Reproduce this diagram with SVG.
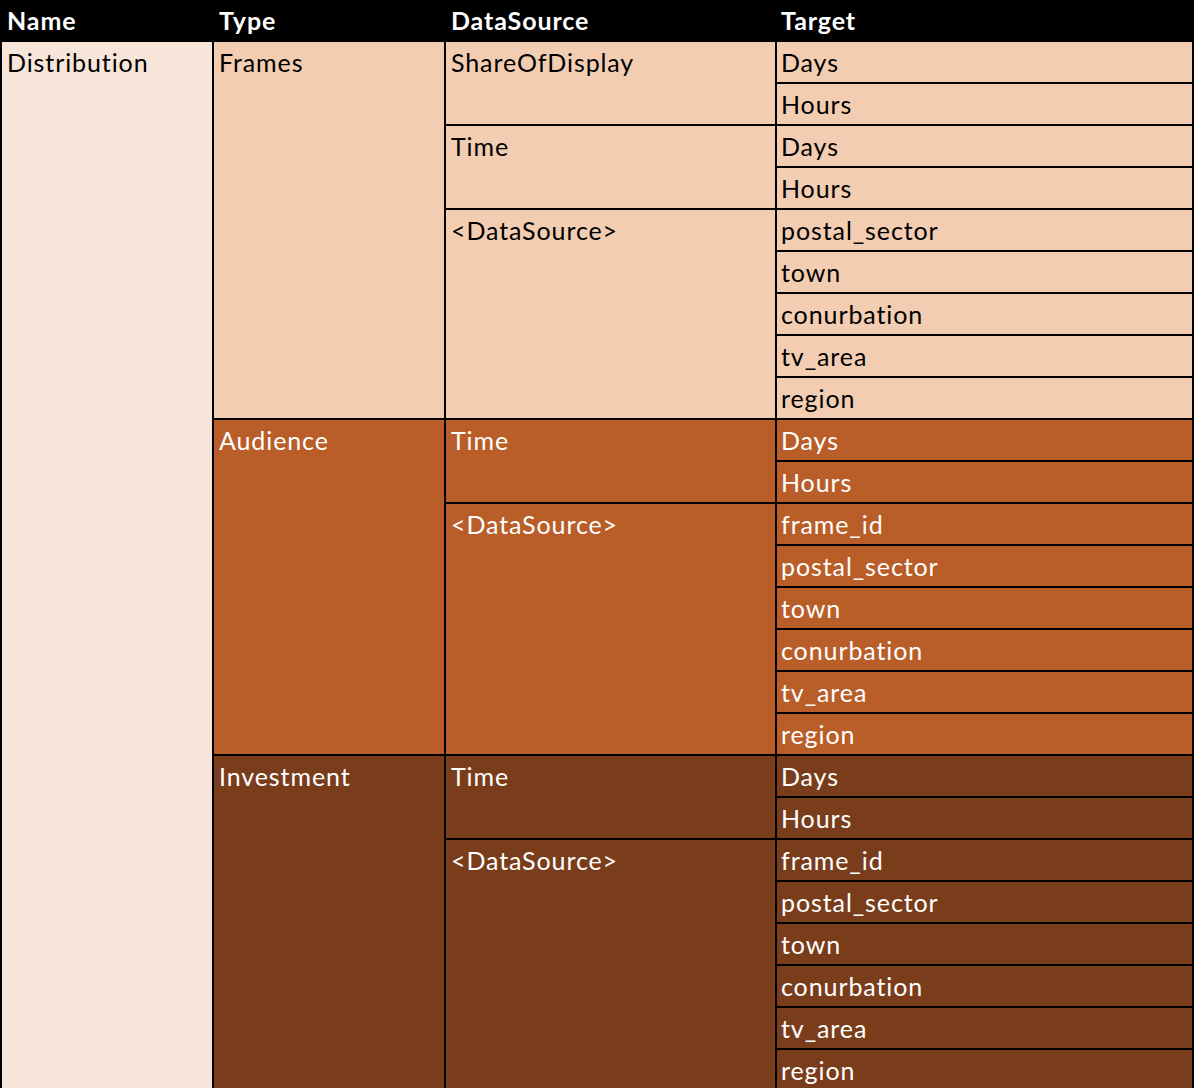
<svg xmlns="http://www.w3.org/2000/svg" width="1194" height="1088" viewBox="0 0 1194 1088">
<style>
text{font-family:Lato,"Open Sans","Liberation Sans",sans-serif;font-size:25px;letter-spacing:0.9px;font-variant-ligatures:none;}
.h{font-weight:bold;fill:#fff;}
.d{fill:#000;}
.w{fill:#fff;}
.ln{fill:#000;}
</style>
<rect x="0" y="0" width="1194" height="1088" fill="#F8E5D9"/>
<g id="header">
<rect x="0" y="0" width="1194" height="42" fill="#000"/>
<text class="h" x="7" y="30">Name</text>
<text class="h" x="219" y="30">Type</text>
<text class="h" x="451" y="30">DataSource</text>
<text class="h" x="781" y="30">Target</text>
</g>
<g id="name-distribution">
<rect x="0" y="42" width="213" height="1046" fill="#F8E5D9"/>
<text class="d" x="7" y="72">Distribution</text>
</g>
<g id="type-frames">
<rect x="213" y="42" width="981" height="378" fill="#F2CDB1"/>
<text class="d" x="219" y="72">Frames</text>
<text class="d" x="451" y="72">ShareOfDisplay</text>
<text class="d" x="451" y="156">Time</text>
<text class="d" x="451" y="240">&lt;DataSource&gt;</text>
<text class="d" x="781" y="72">Days</text>
<text class="d" x="781" y="114">Hours</text>
<text class="d" x="781" y="156">Days</text>
<text class="d" x="781" y="198">Hours</text>
<text class="d" x="781" y="240">postal_sector</text>
<text class="d" x="781" y="282">town</text>
<text class="d" x="781" y="324">conurbation</text>
<text class="d" x="781" y="366">tv_area</text>
<text class="d" x="781" y="408">region</text>
</g>
<g id="type-audience">
<rect x="213" y="420" width="981" height="336" fill="#B95E28"/>
<text class="w" x="219" y="450">Audience</text>
<text class="w" x="451" y="450">Time</text>
<text class="w" x="451" y="534">&lt;DataSource&gt;</text>
<text class="w" x="781" y="450">Days</text>
<text class="w" x="781" y="492">Hours</text>
<text class="w" x="781" y="534">frame_id</text>
<text class="w" x="781" y="576">postal_sector</text>
<text class="w" x="781" y="618">town</text>
<text class="w" x="781" y="660">conurbation</text>
<text class="w" x="781" y="702">tv_area</text>
<text class="w" x="781" y="744">region</text>
</g>
<g id="type-investment">
<rect x="213" y="756" width="981" height="336" fill="#7A3D1B"/>
<text class="w" x="219" y="786">Investment</text>
<text class="w" x="451" y="786">Time</text>
<text class="w" x="451" y="870">&lt;DataSource&gt;</text>
<text class="w" x="781" y="786">Days</text>
<text class="w" x="781" y="828">Hours</text>
<text class="w" x="781" y="870">frame_id</text>
<text class="w" x="781" y="912">postal_sector</text>
<text class="w" x="781" y="954">town</text>
<text class="w" x="781" y="996">conurbation</text>
<text class="w" x="781" y="1038">tv_area</text>
<text class="w" x="781" y="1080">region</text>
</g>
<g id="grid-lines">
<rect class="ln" x="0" y="0" width="2" height="1088"/>
<rect class="ln" x="212" y="0" width="2" height="1088"/>
<rect class="ln" x="444" y="0" width="2" height="1088"/>
<rect class="ln" x="775" y="0" width="2" height="1088"/>
<rect class="ln" x="1192" y="0" width="2" height="1088"/>
<rect class="ln" x="213" y="418" width="981" height="2"/>
<rect class="ln" x="213" y="754" width="981" height="2"/>
<rect class="ln" x="445" y="124" width="749" height="2"/>
<rect class="ln" x="445" y="208" width="749" height="2"/>
<rect class="ln" x="445" y="502" width="749" height="2"/>
<rect class="ln" x="445" y="838" width="749" height="2"/>
<rect class="ln" x="776" y="82" width="418" height="2"/>
<rect class="ln" x="776" y="166" width="418" height="2"/>
<rect class="ln" x="776" y="250" width="418" height="2"/>
<rect class="ln" x="776" y="292" width="418" height="2"/>
<rect class="ln" x="776" y="334" width="418" height="2"/>
<rect class="ln" x="776" y="376" width="418" height="2"/>
<rect class="ln" x="776" y="460" width="418" height="2"/>
<rect class="ln" x="776" y="544" width="418" height="2"/>
<rect class="ln" x="776" y="586" width="418" height="2"/>
<rect class="ln" x="776" y="628" width="418" height="2"/>
<rect class="ln" x="776" y="670" width="418" height="2"/>
<rect class="ln" x="776" y="712" width="418" height="2"/>
<rect class="ln" x="776" y="796" width="418" height="2"/>
<rect class="ln" x="776" y="880" width="418" height="2"/>
<rect class="ln" x="776" y="922" width="418" height="2"/>
<rect class="ln" x="776" y="964" width="418" height="2"/>
<rect class="ln" x="776" y="1006" width="418" height="2"/>
<rect class="ln" x="776" y="1048" width="418" height="2"/>
</g>
</svg>
